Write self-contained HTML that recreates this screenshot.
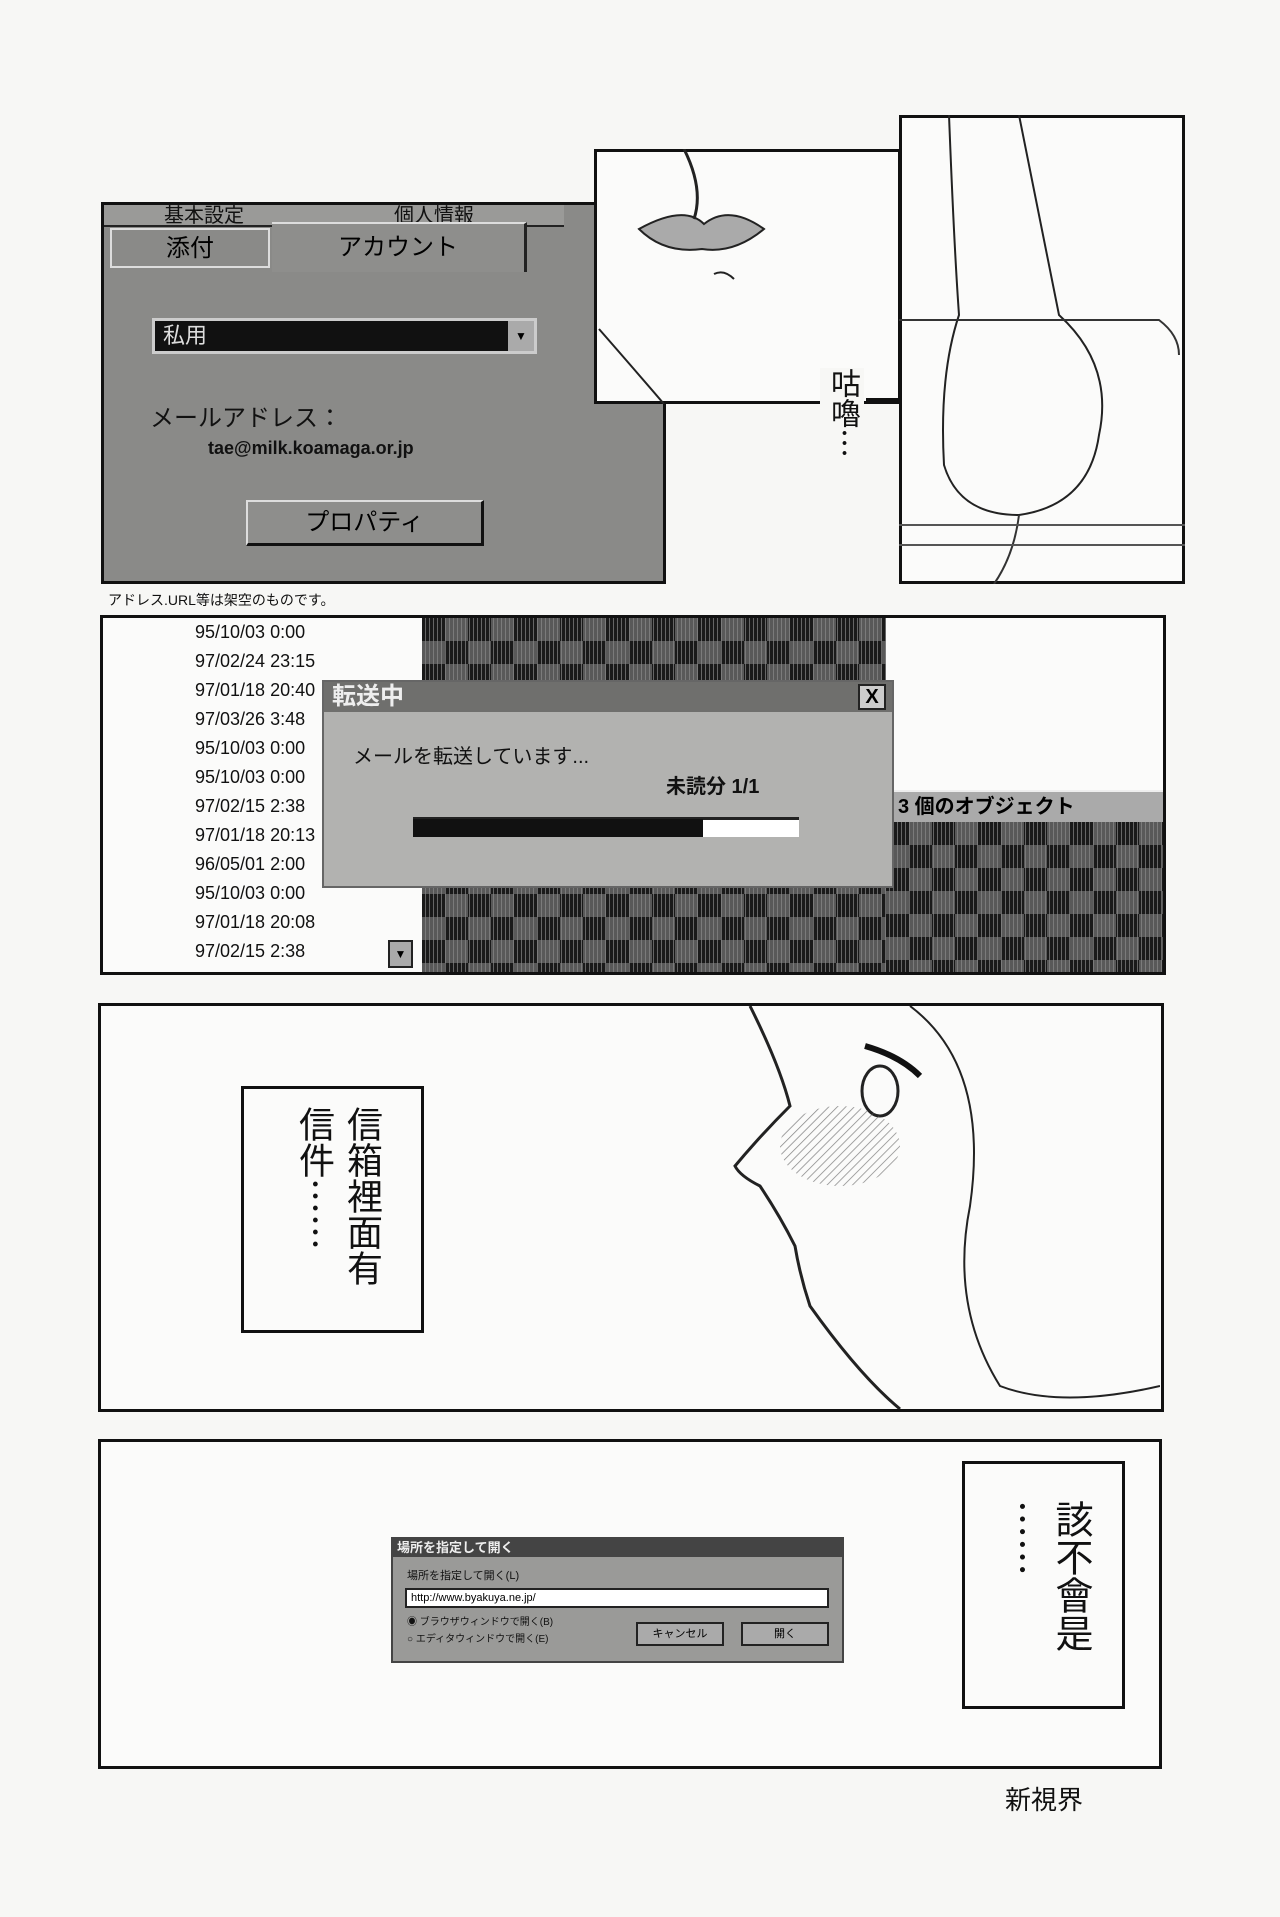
<!DOCTYPE html>
<html><head><meta charset="utf-8"><style>
body{margin:0;width:1280px;height:1917px;background:#f7f7f5;position:relative;overflow:hidden;font-family:"Liberation Sans","Noto Sans CJK JP",sans-serif;}
.a{position:absolute;box-sizing:border-box;}
.pat{background-color:#1a1a1a;background-image:repeating-conic-gradient(rgba(140,140,140,.55) 0 25%,transparent 0 50%),repeating-linear-gradient(90deg,transparent 0 3px,#666 3px 4px);background-size:46px 46px,auto;}
.v{writing-mode:vertical-rl;}
</style></head><body>
<div class="a" style="left:101px;top:202px;width:565px;height:382px;background:#8a8a88;border:3px solid #111;"></div>
<div class="a" style="left:104px;top:205px;width:460px;height:22px;background:#9a9a98;border-bottom:2px solid #222;font-size:20px;line-height:22px;color:#111;"><span style="margin-left:60px">基本設定</span><span style="margin-left:150px">個人情報</span></div>
<div class="a" style="left:110px;top:228px;width:160px;height:40px;border:2px solid #ddd;background:#8a8a88;font-size:24px;text-align:center;line-height:38px;">添付</div>
<div class="a" style="left:272px;top:222px;width:255px;height:50px;border-top:2px solid #ddd;border-right:3px solid #222;background:#8e8e8c;font-size:24px;text-align:center;line-height:48px;">アカウント</div>
<div class="a" style="left:152px;top:318px;width:385px;height:36px;background:#111;border:3px solid #ccc;color:#ddd;font-size:22px;line-height:30px;padding-left:8px;">私用</div>
<div class="a" style="left:508px;top:321px;width:26px;height:30px;background:#aaa;font-size:12px;text-align:center;line-height:30px;">▼</div>
<div class="a" style="left:150px;top:398px;font-size:24px;color:#111;">メールアドレス：</div>
<div class="a" style="left:208px;top:438px;font-size:18px;font-weight:bold;color:#111;">tae@milk.koamaga.or.jp</div>
<div class="a" style="left:246px;top:500px;width:238px;height:46px;background:#8e8e8c;border-top:2px solid #ddd;border-left:2px solid #ddd;border-right:3px solid #111;border-bottom:3px solid #111;font-size:24px;text-align:center;line-height:42px;">プロパティ</div>
<div class="a" style="left:108px;top:590px;font-size:14px;color:#111;">アドレス.URL等は架空のものです。</div>
<div class="a" style="left:594px;top:149px;width:307px;height:255px;background:#fbfbfa;border:3px solid #111;"></div>
<svg class="a" style="left:594px;top:149px" width="307" height="255"><path d="M45 80 Q90 55 110 75 Q135 55 170 80 Q140 105 108 100 Q70 105 45 80Z" fill="#aaa" stroke="#222" stroke-width="2"/><path d="M90 0 Q110 40 100 70" fill="none" stroke="#222" stroke-width="3"/><path d="M120 125 Q130 120 140 130" fill="none" stroke="#222" stroke-width="2"/><path d="M5 180 Q40 220 70 255" fill="none" stroke="#222" stroke-width="2"/></svg>
<div class="a" style="left:899px;top:115px;width:286px;height:469px;background:#fbfbfa;border:3px solid #111;"></div>
<svg class="a" style="left:899px;top:115px" width="286" height="469"><path d="M50 0 Q55 130 60 200 Q40 260 45 350 Q60 400 120 400 Q190 390 200 320 Q215 250 160 200 Q140 100 120 0" fill="none" stroke="#222" stroke-width="2"/><path d="M0 205 L260 205 Q280 220 280 240" fill="none" stroke="#333" stroke-width="2"/><path d="M120 400 Q115 440 95 469" fill="none" stroke="#333" stroke-width="2"/><path d="M0 410 L286 410 M0 430 L286 430" stroke="#555" stroke-width="2"/></svg>
<div class="a v" style="left:820px;top:368px;font-size:30px;color:#111;background:#f7f7f5;">咕嚕⋯</div>
<div class="a" style="left:866px;top:398px;width:34px;height:3px;background:#111"></div>
<div class="a" style="left:100px;top:615px;width:1066px;height:360px;border:3px solid #111;background:#fbfbfa;"></div>
<div class="a pat" style="left:422px;top:618px;width:464px;height:354px;"></div>
<div class="a pat" style="left:886px;top:822px;width:277px;height:150px;"></div>
<div class="a" style="left:886px;top:790px;width:277px;height:32px;background:#aaa;border-top:2px solid #eee;font-size:20px;font-weight:bold;line-height:30px;padding-left:12px;">3 個のオブジェクト</div>
<div class="a" style="left:195px;top:618px;font-size:18px;line-height:29px;color:#111;">95/10/03 0:00<br>97/02/24 23:15<br>97/01/18 20:40<br>97/03/26 3:48<br>95/10/03 0:00<br>95/10/03 0:00<br>97/02/15 2:38<br>97/01/18 20:13<br>96/05/01 2:00<br>95/10/03 0:00<br>97/01/18 20:08<br>97/02/15 2:38</div>
<div class="a" style="left:388px;top:940px;width:25px;height:28px;background:#aaa;border:2px solid #222;font-size:12px;text-align:center;line-height:24px;">▼</div>
<div class="a" style="left:322px;top:680px;width:572px;height:208px;background:#b2b2b0;border:2px solid #666;"></div>
<div class="a" style="left:324px;top:682px;width:568px;height:30px;background:#6f6f6d;color:#eee;font-size:24px;font-weight:bold;line-height:30px;padding-left:8px;">転送中</div>
<div class="a" style="left:858px;top:684px;width:28px;height:26px;background:#ccc;border:2px solid #222;font-size:20px;font-weight:bold;text-align:center;line-height:22px;">X</div>
<div class="a" style="left:353px;top:740px;font-size:20px;color:#111;">メールを転送しています...</div>
<div class="a" style="left:666px;top:770px;font-size:20px;font-weight:bold;color:#111;">未読分 1/1</div>
<div class="a" style="left:413px;top:817px;width:386px;height:20px;background:#fff;border-top:3px solid #222;"></div>
<div class="a" style="left:413px;top:819px;width:290px;height:18px;background:#111;"></div>
<div class="a" style="left:98px;top:1003px;width:1066px;height:409px;border:3px solid #111;background:#fbfbfa;"></div>
<svg class="a" style="left:700px;top:1006px" width="460" height="403"><defs><pattern id="h" width="6" height="6" patternUnits="userSpaceOnUse" patternTransform="rotate(45)"><line x1="0" y1="0" x2="0" y2="6" stroke="#555" stroke-width="1.5"/></pattern></defs><path d="M50 0 Q80 60 90 100 Q60 130 35 160 Q40 170 60 180 Q80 210 95 240 Q100 270 110 300 Q160 370 200 403" fill="none" stroke="#222" stroke-width="3"/><path d="M210 0 Q290 60 270 200 Q250 300 300 380 Q360 403 460 380" fill="none" stroke="#222" stroke-width="2"/><path d="M165 40 Q200 50 220 70" fill="none" stroke="#111" stroke-width="6"/><ellipse cx="180" cy="85" rx="18" ry="25" fill="none" stroke="#222" stroke-width="3"/><ellipse cx="140" cy="140" rx="60" ry="40" fill="url(#h)" opacity="0.7"/></svg>
<div class="a" style="left:241px;top:1086px;width:183px;height:247px;border:3px solid #111;background:#fbfbfa;"></div>
<div class="a v" style="left:290px;top:1106px;font-size:36px;line-height:48px;color:#111;">信箱裡面有<br>信件⋯⋯</div>
<div class="a" style="left:98px;top:1439px;width:1064px;height:330px;border:3px solid #111;background:#fbfbfa;"></div>
<div class="a" style="left:391px;top:1537px;width:453px;height:126px;background:#9a9a98;border:2px solid #444;"></div>
<div class="a" style="left:393px;top:1539px;width:449px;height:18px;background:#444;color:#eee;font-size:13px;font-weight:bold;line-height:18px;padding-left:4px;">場所を指定して開く</div>
<div class="a" style="left:407px;top:1567px;font-size:11px;color:#111;">場所を指定して開く(L)</div>
<div class="a" style="left:405px;top:1588px;width:424px;height:20px;background:#fff;border:2px solid #222;font-size:11px;line-height:16px;padding-left:4px;">http://www.byakuya.ne.jp/</div>
<div class="a" style="left:407px;top:1614px;font-size:10px;line-height:17px;color:#111;">◉ ブラウザウィンドウで開く(B)<br>○ エディタウィンドウで開く(E)</div>
<div class="a" style="left:636px;top:1622px;width:88px;height:24px;background:#aaa;border:2px solid #222;font-size:11px;text-align:center;line-height:20px;">キャンセル</div>
<div class="a" style="left:741px;top:1622px;width:88px;height:24px;background:#aaa;border:2px solid #222;font-size:11px;text-align:center;line-height:20px;">開く</div>
<div class="a" style="left:962px;top:1461px;width:163px;height:248px;border:3px solid #111;background:#fbfbfa;"></div>
<div class="a v" style="left:995px;top:1500px;font-size:38px;line-height:50px;color:#111;">該不會是<br>⋯⋯</div>
<div class="a" style="left:1005px;top:1780px;font-size:26px;color:#111;">新視界</div>
</body></html>
